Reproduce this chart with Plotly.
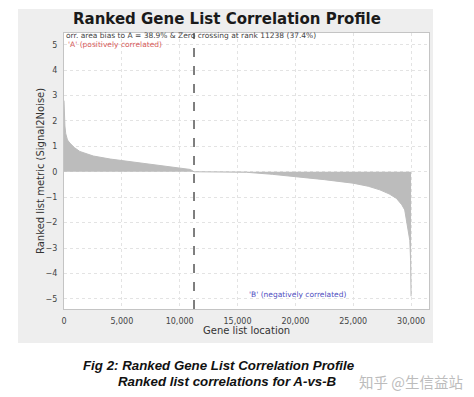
import plotly.graph_objects as go

# ---- data ----
rank_pos = [0, 30, 80, 150, 300, 520, 900, 1360, 2000, 2530, 4000, 5420, 7000, 8330, 9500, 10920, 11238]
metric_pos = [2.8, 2.2, 1.8, 1.5, 1.25, 1.12, 0.95, 0.8, 0.7, 0.62, 0.5, 0.42, 0.33, 0.26, 0.19, 0.09, 0.0]

rank_neg = [11238, 15000, 15770, 18000, 20090, 22500, 24990, 26300, 27290, 28100, 28740,
            29200, 29450, 29740, 29890, 29960, 29990, 30000]
metric_neg = [0.0, -0.005, -0.02, -0.1, -0.19, -0.31, -0.45, -0.57, -0.71, -0.87, -1.05,
              -1.3, -1.5, -2.3, -2.7, -3.5, -4.9, -4.9]

zero_cross = 11238
x_ticks = [0, 5000, 10000, 15000, 20000, 25000, 30000]
y_ticks = [-5, -4, -3, -2, -1, 0, 1, 2, 3, 4, 5]

title = "Ranked Gene List Correlation Profile"
subtitle = "orr. area bias to A = 38.9% & Zero crossing at rank 11238 (37.4%)"
label_a = "'A' (positively correlated)"
label_b = "'B' (negatively correlated)"
x_title = "Gene list location"
y_title = "Ranked list metric (Signal2Noise)"
caption1 = "Fig 2: Ranked Gene List Correlation Profile"
caption2 = "Ranked list correlations for A-vs-B"
watermark = "知乎 @生信益站"

# ---- layout geometry (pixels) ----
W_, H_ = 474, 397
L, R, T, B = 64, 429, 33, 309
PW, PH = R - L, B - T


def px(x):
    return (x - L) / PW


def py(y):
    return (B - y) / PH


FILL = "#bcbcbc"
fig = go.Figure()
fig.add_trace(go.Scatter(x=rank_pos, y=metric_pos, mode="lines", fill="tozeroy",
                         fillcolor=FILL, line=dict(color=FILL, width=1), hoverinfo="skip",
                         showlegend=False))
fig.add_trace(go.Scatter(x=rank_neg, y=metric_neg, mode="lines", fill="tozeroy",
                         fillcolor=FILL, line=dict(color=FILL, width=1), hoverinfo="skip",
                         showlegend=False))

shapes = [
    dict(type="rect", xref="paper", yref="paper", x0=px(18), x1=px(433), y0=py(343), y1=py(9),
         fillcolor="#eeeeee", line=dict(width=0), layer="below"),
    dict(type="rect", xref="paper", yref="paper", x0=0, x1=1, y0=0, y1=1,
         fillcolor="white", line=dict(width=0), layer="below"),
    dict(type="line", xref="x", yref="paper", x0=zero_cross, x1=zero_cross, y0=0, y1=1,
         line=dict(color="#555555", width=1.5, dash="dash")),
]

FONT = "DejaVu Sans"
ann = [
    dict(x=px(226.5), y=py(19), text="<b>" + title + "</b>",
         font=dict(family=FONT, size=15, color="#1a1a1a")),
    dict(x=px(64), y=py(35.5), text=subtitle, xanchor="left",
         font=dict(family=FONT, size=7.5, color="#444444")),
    dict(x=px(66), y=py(45), text=label_a, xanchor="left",
         font=dict(family=FONT, size=7.5, color="#d65a5a")),
    dict(x=px(247), y=py(294), text=label_b, xanchor="left",
         font=dict(family=FONT, size=7.5, color="#4f4fbf")),
    dict(x=px(246), y=py(330), text=x_title,
         font=dict(family=FONT, size=10, color="#333333")),
    dict(x=px(40), y=py(171), text=y_title, textangle=-90,
         font=dict(family=FONT, size=10, color="#333333")),
    dict(x=px(219), y=py(365), text="<b><i>" + caption1 + "</i></b>",
         font=dict(family="Liberation Sans", size=13.3, color="#111111")),
    dict(x=px(227), y=py(381), text="<b><i>" + caption2 + "</i></b>",
         font=dict(family="Liberation Sans", size=13.3, color="#111111")),
    dict(x=px(411), y=py(381), text=watermark,
         font=dict(family="Noto Sans CJK SC", size=14.5, color="#bcbcbc")),
]
for a in ann:
    a.update(xref="paper", yref="paper", showarrow=False)
    a.setdefault("xanchor", "center")
    a.setdefault("yanchor", "middle")

fig.update_layout(
    width=W_, height=H_,
    margin=dict(l=L, r=W_ - R, t=T, b=H_ - B),
    paper_bgcolor="white", plot_bgcolor="white",
    shapes=shapes, annotations=ann,
    showlegend=False,
    xaxis=dict(range=[0, 31550], tickvals=x_ticks, tickformat=",d",
               showgrid=True, gridcolor="#e3e3e3", griddash="dot", gridwidth=1,
               zeroline=False, showline=True, mirror=True, linecolor="#c4c4c4", linewidth=1,
               ticks="", ticklabelstandoff=4,
               tickfont=dict(family=FONT, size=8, color="#444444")),
    yaxis=dict(range=[-5.4, 5.46], tickvals=y_ticks,
               showgrid=True, gridcolor="#e3e3e3", griddash="dot", gridwidth=1,
               zeroline=False, showline=True, mirror=True, linecolor="#c4c4c4", linewidth=1,
               ticks="", ticklabelstandoff=4,
               tickfont=dict(family=FONT, size=8, color="#444444")),
)

fig.write_html("out.html")
